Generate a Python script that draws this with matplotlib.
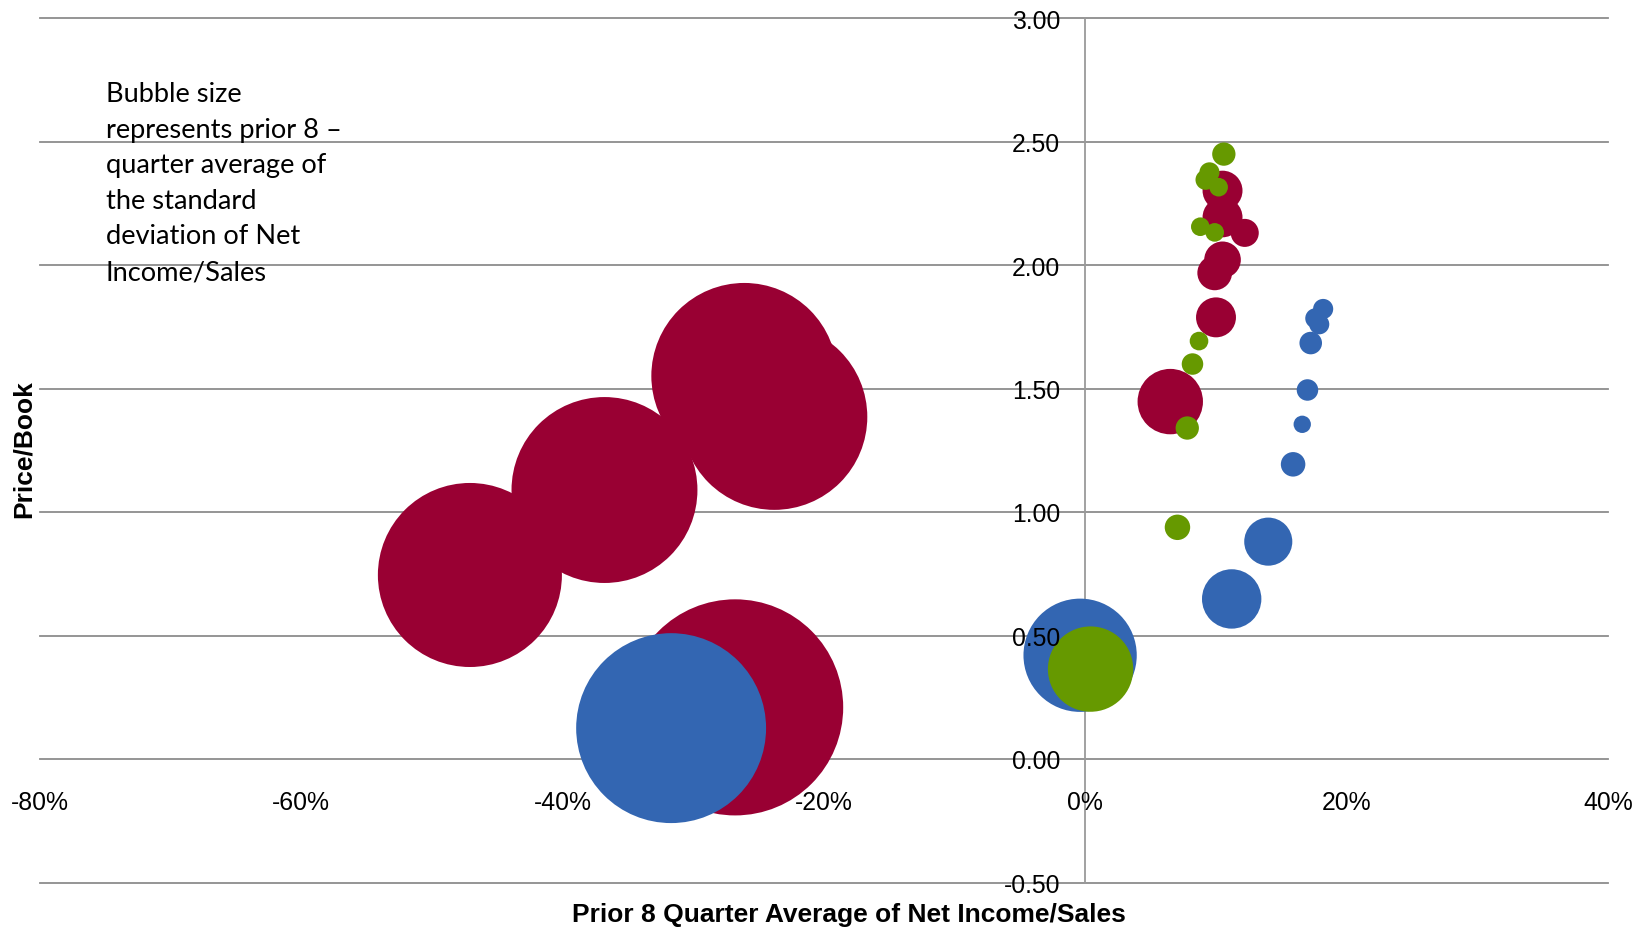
import matplotlib
matplotlib.use("Agg")
import matplotlib.pyplot as plt
from matplotlib.ticker import FuncFormatter

plt.rcParams['axes.unicode_minus'] = False

# prior 8 quarter average of net income / sales (%), price / book, bubble = avg std dev
red_x = [-47.1, -36.8, -26.1, -23.8, -26.8, 6.5, 10.0, 9.9, 10.5, 12.2, 10.5, 10.5]
red_y = [0.745, 1.089, 1.551, 1.385, 0.209, 1.447, 1.788, 1.968, 2.021, 2.130, 2.193, 2.301]
red_size = [29.3, 29.9, 29.9, 29.9, 40.4, 3.7, 1.38, 1.04, 1.16, 0.68, 1.38, 1.38]

blue_x = [-31.7, -0.4, 11.2, 14.0, 15.9, 16.6, 17.0, 17.25, 17.6, 17.9, 18.2]
blue_y = [0.125, 0.420, 0.648, 0.880, 1.193, 1.355, 1.494, 1.684, 1.784, 1.760, 1.822]
blue_size = [31.2, 11.1, 3.05, 2.0, 0.52, 0.26, 0.40, 0.44, 0.35, 0.35, 0.35]

green_x = [10.6, 9.5, 9.2, 10.2, 8.8, 9.9, 8.7, 8.2, 7.8, 7.05, 0.4]
green_y = [2.449, 2.375, 2.345, 2.315, 2.155, 2.132, 1.692, 1.599, 1.34, 0.938, 0.364]
green_size = [0.47, 0.35, 0.35, 0.30, 0.30, 0.30, 0.30, 0.40, 0.47, 0.56, 6.3]

x_ticks = [-80, -60, -40, -20, 0, 20, 40]
y_ticks = [-0.5, 0.0, 0.5, 1.0, 1.5, 2.0, 2.5, 3.0]

note = ("Bubble size\nrepresents prior 8 \u2013\nquarter average of\nthe standard\n"
        "deviation of Net\nIncome/Sales")

W, H = 1646, 928
fig = plt.figure(figsize=(W / 100, H / 100), dpi=100)
ax = fig.add_axes([40 / W, 1 - 883.5 / H, (1608 - 40) / W, (883.5 - 19) / H])


def area(sizes):
    # bubble area proportional to value -> marker area in points^2
    return [(2 * 17 * v ** 0.5 * 0.72) ** 2 for v in sizes]


for xs, ys, ss, c in [(red_x, red_y, red_size, "#990033"),
                      (blue_x, blue_y, blue_size, "#3366B2"),
                      (green_x, green_y, green_size, "#669900")]:
    order = sorted(range(len(ss)), key=lambda i: -ss[i])
    ax.scatter([xs[i] for i in order], [ys[i] for i in order],
               s=area([ss[i] for i in order]), color=c, linewidths=0,
               zorder=3, clip_on=False)

ax.set_xlim(-80, 40)
ax.set_ylim(-0.5, 3.0)

for yv in y_ticks:
    ax.axhline(yv, color="#8c8c8c", lw=1.3, zorder=1, clip_on=False)
ax.axvline(0, color="#9a9a9a", lw=1.3, zorder=1, clip_on=False)

for s in ax.spines.values():
    s.set_visible(False)
ax.spines['left'].set_position(('data', 0))
ax.spines['bottom'].set_position(('data', 0))

ax.set_xticks(x_ticks)
ax.set_yticks(y_ticks)
ax.xaxis.set_major_formatter(FuncFormatter(lambda v, p: f"{v:.0f}%"))
ax.yaxis.set_major_formatter(FuncFormatter(lambda v, p: f"{v:.2f}"))
ax.tick_params(axis='x', length=0, pad=22, labelsize=17.8)
ax.tick_params(axis='y', length=0, pad=18, labelsize=17.8)
for lab in ax.get_xticklabels() + ax.get_yticklabels():
    lab.set_fontfamily("Liberation Sans")
ax.xaxis.set_zorder(5)
ax.yaxis.set_zorder(5)
ax.patch.set_visible(False)

fig.text(848.5 / W, 1 - 922 / H, "Prior 8 Quarter Average of Net Income/Sales",
         ha="center", va="baseline", fontsize=19, fontweight="bold",
         family="Liberation Sans")
fig.text(24 / W, 1 - 449 / H, "Price/Book", rotation=90, ha="center",
         va="center", fontsize=19, fontweight="bold", family="Liberation Sans")

fig.text(105.7 / W, 1 - 82 / H, note, ha="left", va="top", fontsize=19.6,
         family=["Lato", "DejaVu Sans"], linespacing=1.53, color="black")

fig.savefig("out.png", dpi=100)
